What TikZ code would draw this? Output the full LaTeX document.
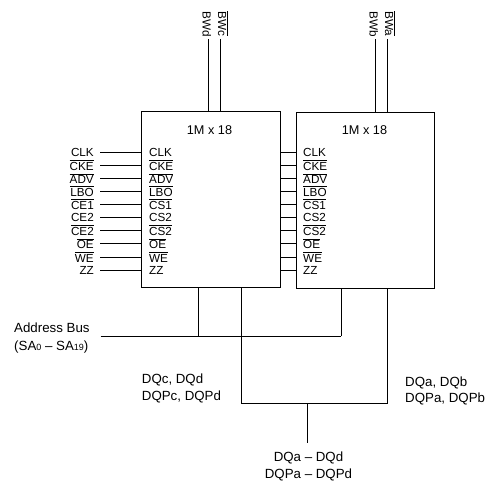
\documentclass[tikz,border=0pt]{standalone}
\usepackage{fontspec}
\setmainfont{Liberation Sans}
\newcommand{\ovl}[1]{$\overline{\hbox{#1}}$}
\newcommand{\bigf}{\fontsize{13.3}{16.5}\selectfont}
\newcommand{\smallf}{\fontsize{11.7}{13}\selectfont}
\begin{document}
\begin{tikzpicture}[x=1pt,y=-1pt,
  wire/.style={line width=0.9pt},
  chip/.style={draw,line width=0.9pt,anchor=north west,inner sep=0pt},
  pin/.style={font=\smallf,inner ysep=0pt},
  txt/.style={font=\bigf,align=left,inner sep=0pt}]
\useasboundingbox (0,0) rectangle (489,480);

\node[chip,minimum width=139pt,minimum height=176pt] (chipa) at (141,111) {};
\node[chip,minimum width=138.5pt,minimum height=176pt] (chipb) at (295.5,112) {};
\node[font=\fontsize{12.7}{14}\selectfont] (sizea) at (209.5,130) {1M x 18};
\node[font=\fontsize{12.7}{14}\selectfont] (sizeb) at (364.5,130) {1M x 18};

\foreach \i/\y/\pinext/\pinint in {1/152.5/CLK/CLK,2/165/\ovl{CKE}/\ovl{CKE},3/178.5/\ovl{ADV}/\ovl{ADV},
    4/191/\ovl{LBO}/\ovl{LBO},5/204/\ovl{CE1}/\ovl{CS1},6/217.5/CE2/CS2,7/230/\ovl{CE2}/\ovl{CS2},
    8/243.5/\ovl{OE}/\ovl{OE},9/257/\ovl{WE}/\ovl{WE},10/270/ZZ/ZZ}{
  \coordinate (ya\i) at (0,\y);
  \node[pin,anchor=east,inner xsep=6pt] (ext\i) at (100,\y) {\pinext};
  \node[pin,anchor=west,inner xsep=8pt] (ina\i) at (141,\y) {\pinint};
  \node[pin,anchor=west,inner xsep=7.5pt] (inb\i) at (295.5,\y) {\pinint};
  \draw[wire] (ext\i.east |- ya\i) -- (ina\i.west |- ya\i);
  \draw[wire] (chipa.east |- ya\i) -- (inb\i.west |- ya\i);
}

\node[pin,rotate=-90,anchor=west,inner xsep=0pt] (bwd) at (206.7,11) {BWd};
\node[pin,rotate=-90,anchor=west,inner xsep=0pt] (bwc) at (223,11) {\ovl{BWc}};
\node[pin,rotate=-90,anchor=west,inner xsep=0pt] (bwb) at (373.7,11) {BWb};
\node[pin,rotate=-90,anchor=west,inner xsep=0pt] (bwa) at (390,11) {\ovl{BWa}};
\coordinate (topd) at (208.3,39);
\coordinate (topc) at (220.7,39);
\coordinate (topb) at (375.3,39);
\coordinate (topa) at (387.7,39);
\draw[wire] (topd) -- (topd |- chipa.north);
\draw[wire] (topc) -- (topc |- chipa.north);
\draw[wire] (topb) -- (topb |- chipb.north);
\draw[wire] (topa) -- (topa |- chipb.north);

\node[txt,anchor=west,inner xsep=10.7pt,font=\fontsize{13.3}{18}\selectfont] (addr) at (3.3,338) {Address Bus\\(SA{\fontsize{9}{9}\selectfont 0} -- SA{\fontsize{9}{9}\selectfont 19})};
\coordinate (addra) at (198,336);
\coordinate (addrb) at (341,336);
\coordinate (dqa) at (241.3,403);
\coordinate (dqb) at (387.7,403);
\coordinate (dqjoin) at (307.7,403);
\draw[wire] (addr.east |- addra) -- (addrb);
\draw[wire] (addra) -- (addra |- chipa.south);
\draw[wire] (addrb) -- (addrb |- chipb.south);
\draw[wire] (dqa |- chipa.south) -- (dqa) -- (dqb) -- (dqb |- chipb.south);

\node[txt,anchor=north west] (dqcd) at (141.7,374) {DQc, DQd\\DQPc, DQPd};
\node[txt,anchor=north west] (dqab) at (405,376.5) {DQa, DQb\\DQPa, DQPb};
\node[txt,align=center,anchor=north,inner ysep=9pt] (dqall) at (308.5,443) {DQa -- DQd\\DQPa -- DQPd};
\draw[wire] (dqjoin) -- (dqjoin |- dqall.north);
\end{tikzpicture}
\end{document}
